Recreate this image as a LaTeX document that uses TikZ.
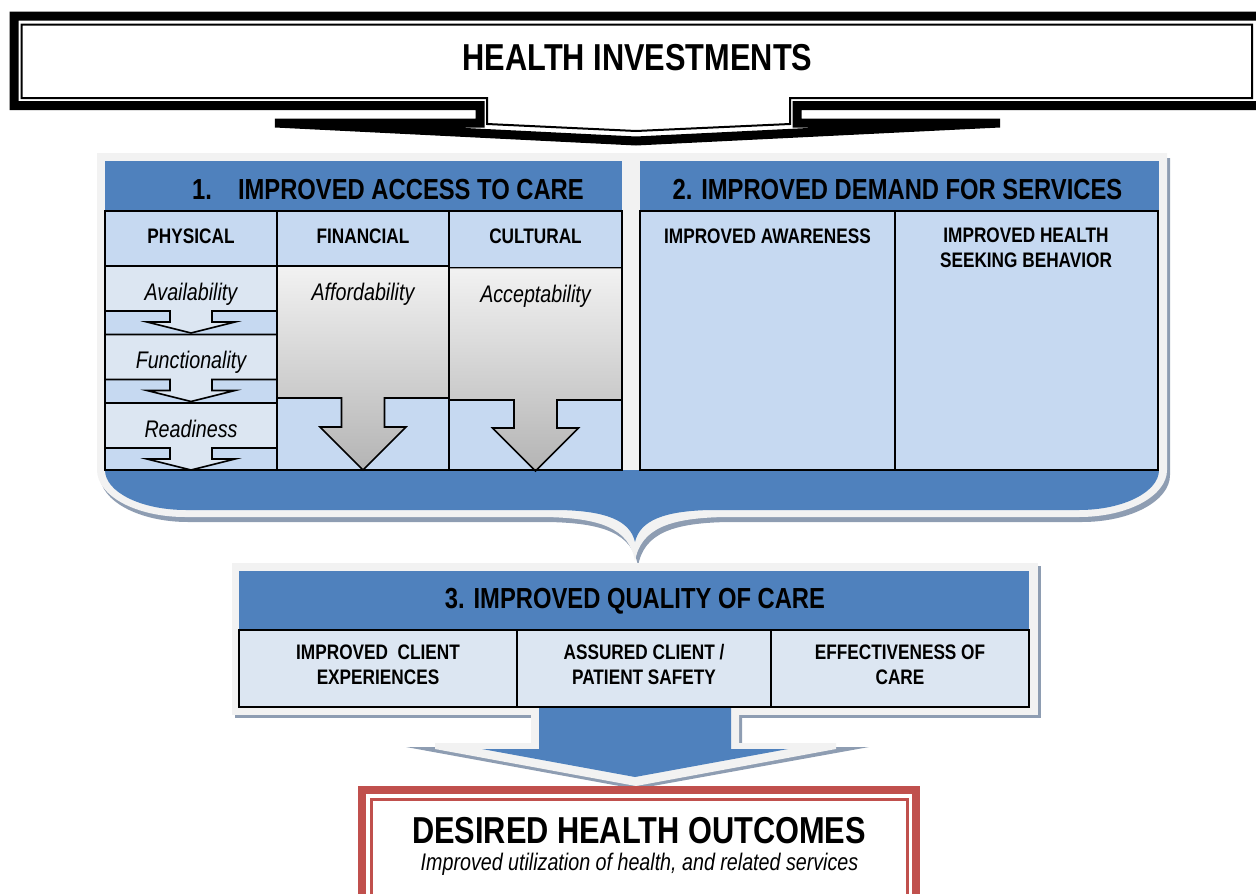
\documentclass[tikz,border=0pt]{standalone}
\usepackage{fontspec}
\setmainfont{Liberation Sans}[FakeStretch=0.82]
\definecolor{hblue}{HTML}{4F81BD}
\definecolor{lblue}{HTML}{C6D9F1}
\definecolor{llblue}{HTML}{DCE6F2}
\definecolor{fgray}{HTML}{F2F2F2}
\definecolor{shd}{HTML}{8E9DB2}
\definecolor{hred}{HTML}{C0504D}
\definecolor{gtop}{HTML}{F2F2F2}
\definecolor{gbot}{HTML}{B4B4B4}
\begin{document}
\begin{tikzpicture}[x=1pt,y=-1pt,
  ttl/.style={font=\fontsize{37.5}{40}\selectfont\bfseries, inner sep=0pt},
  hdr/.style={font=\fontsize{29}{32}\selectfont\bfseries, inner sep=0pt},
  sub/.style={font=\fontsize{21}{25}\selectfont\bfseries, inner sep=0pt, align=center},
  itm/.style={font=\fontsize{24}{26}\selectfont\itshape, inner sep=0pt},
  cellbox/.style={draw=black, line width=1.6pt},
  bigarrow/.style={cellbox, top color=gtop, bottom color=gbot},
]
\useasboundingbox (0,0) rectangle (1256,894);
\clip (0,0) rectangle (1256,894);

% ---------- HEALTH INVESTMENTS callout ----------
\draw[line width=9pt] (1262,16) -- (14,16) -- (14,105.5) -- (480,105.5) -- (480,123) -- (275,123) -- (636,141) -- (1000,123) -- (797,123) -- (797,105.5) -- (1262,105.5) -- cycle;
\draw[line width=2pt, fill=white] (1252,24.5) -- (21.5,24.5) -- (21.5,98) -- (487,98) -- (487,124) -- (636,131) -- (790,124) -- (790,98) -- (1252,98) -- cycle;
\node[ttl, anchor=base] (hi) at (637.5,70) {HEALTH INVESTMENTS};

% ---------- sections 1 & 2 frame ----------
\begin{scope}[shift={(3,5)}]
\fill[shd] (97,153) -- (1167,153) -- (1167,470) .. controls (1167,496) and (1127.6,517) .. (1079,517) -- (725,517) .. controls (670,518) and (641,528) .. (635,561) .. controls (629,528) and (600,518) .. (545,517) -- (185,517) .. controls (136.4,517) and (97,496) .. (97,470) -- cycle;
\end{scope}
\fill[fgray] (97,153) -- (1167,153) -- (1167,470) .. controls (1167,496) and (1127.6,517) .. (1079,517) -- (725,517) .. controls (670,518) and (641,528) .. (635,561) .. controls (629,528) and (600,518) .. (545,517) -- (185,517) .. controls (136.4,517) and (97,496) .. (97,470) -- cycle;
\fill[hblue] (105,470) -- (1159,470) .. controls (1159,492) and (1123,510) .. (1079,510) -- (710,510) .. controls (665,511) and (640,520) .. (635,542) .. controls (630,520) and (605,511) .. (560,510) -- (186,510) .. controls (141,510) and (105,492) .. (105,470) -- cycle;
\fill[hblue] (105,161) rectangle (622,211);
\fill[hblue] (640,161) rectangle (1159,211);
\node[hdr, anchor=base] (s1) at (388,199) {1.\hspace{26pt}IMPROVED ACCESS TO CARE};
\node[hdr, anchor=base] (s2) at (897.5,199) {2. IMPROVED DEMAND FOR SERVICES};

% section 1 table
\fill[lblue] (105,266) rectangle (622,470);
\foreach \t in {266,334.5,403}{
  \draw[cellbox, fill=llblue] (105,\t) -- (277,\t) -- (277,\t+45) -- (212,\t+45) -- (212,\t+56) -- (235,\t+56) -- (191,\t+67) -- (147,\t+56) -- (170,\t+56) -- (170,\t+45) -- (105,\t+45) -- cycle;
}
\draw[bigarrow] (277,266) -- (449,266) -- (449,398) -- (384.5,398) -- (384.5,427) -- (406,427) -- (363,470) -- (320,427) -- (341.5,427) -- (341.5,398) -- (277,398) -- cycle;
\draw[bigarrow] (449,267.5) -- (622,267.5) -- (622,400) -- (557,400) -- (557,428) -- (578.5,428) -- (535.5,471) -- (492.5,428) -- (514,428) -- (514,400) -- (449,400) -- cycle;
\draw[cellbox, fill=lblue] (105,211) rectangle (277,266);
\draw[cellbox, fill=lblue] (277,211) rectangle (449,266);
\draw[cellbox, fill=lblue] (449,211) rectangle (622,267.5);
\draw[cellbox] (105,211) rectangle (622,470);
\draw[cellbox] (277,211) -- (277,470);
\draw[cellbox] (449,211) -- (449,470);
\node[sub, anchor=base] (phy) at (191,243) {PHYSICAL};
\node[sub, anchor=base] (fin) at (363,243) {FINANCIAL};
\node[sub, anchor=base] (cul) at (535.5,243) {CULTURAL};
\node[itm, anchor=base] (ava) at (191,300.5) {Availability};
\node[itm, anchor=base] (fun) at (191,368.5) {Functionality};
\node[itm, anchor=base] (rea) at (191,437) {Readiness};
\node[itm, anchor=base] (aff) at (363,300.5) {Affordability};
\node[itm, anchor=base] (acc) at (535.5,302.5) {Acceptability};

% section 2 table
\draw[cellbox, fill=lblue] (640,211) rectangle (895,470);
\draw[cellbox, fill=lblue] (895,211) rectangle (1158,470);
\node[sub, anchor=base] (awa) at (767.5,243) {IMPROVED AWARENESS};
\node[sub, anchor=north] (hsb) at (1026,227.5) {IMPROVED HEALTH\\SEEKING BEHAVIOR};

% ---------- section 3 ----------
\fill[shd] (406,747) -- (636,789) -- (869,747) -- (742,747) -- (742,712) -- (531,712) -- (531,747) -- cycle;
\fill[shd] (235,566) rectangle (1041,718);
\fill[fgray] (531,700) -- (531,743) -- (435,743) -- (435,749) -- (636,786) -- (836,749) -- (836,743) -- (739,743) -- (739,700) -- cycle;
\fill[fgray] (232,563) rectangle (1038,715);
\fill[hblue] (539,700) -- (539,749) -- (482,749) -- (635,777) -- (788,749) -- (731,749) -- (731,700) -- cycle;
\fill[hblue] (239,571) rectangle (1029,630);
\node[hdr, anchor=base] (s3) at (635,608) {3. IMPROVED QUALITY OF CARE};
\draw[cellbox, fill=llblue] (239,630) rectangle (517,707);
\draw[cellbox, fill=llblue] (517,630) rectangle (771,707);
\draw[cellbox, fill=llblue] (771,630) rectangle (1029,707);
\node[sub, anchor=north] (cli) at (378,644.5) {IMPROVED\ \ CLIENT\\EXPERIENCES};
\node[sub, anchor=north] (saf) at (644,644.5) {ASSURED CLIENT /\\PATIENT SAFETY};
\node[sub, anchor=north] (eff) at (900,644.5) {EFFECTIVENESS OF\\CARE};

% ---------- DESIRED HEALTH OUTCOMES ----------
\draw[hred, line width=8pt, fill=white] (362,789.5) rectangle (915.5,910);
\draw[hred, line width=3pt] (371.5,799.5) rectangle (907.5,900);
\node[ttl, anchor=base] (out) at (639,843) {DESIRED HEALTH OUTCOMES};
\node[itm, anchor=base] (util) at (639.5,870) {Improved utilization of health, and related services};
\end{tikzpicture}
\end{document}
